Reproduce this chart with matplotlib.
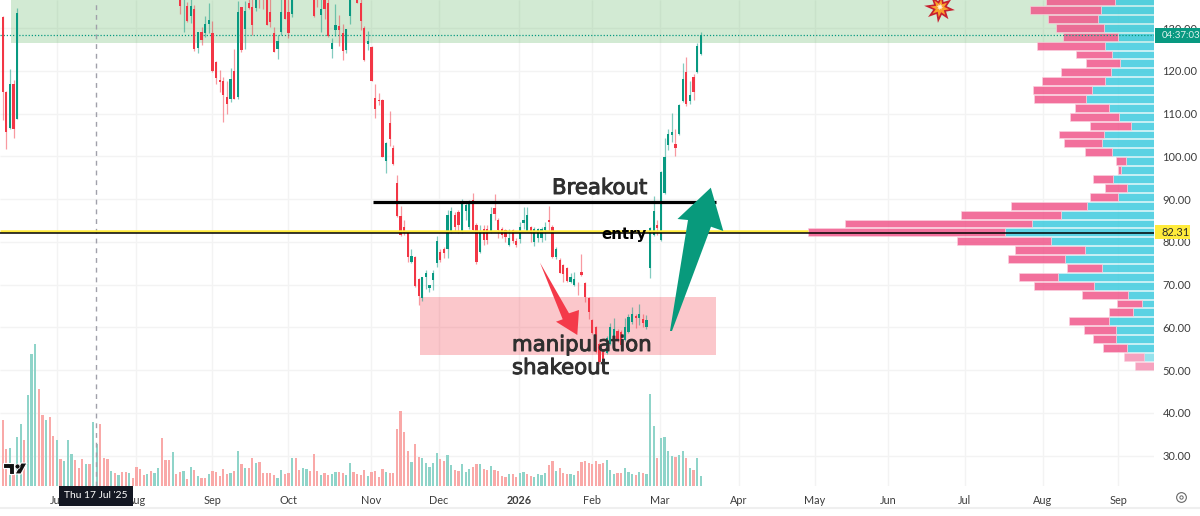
# -*- coding: utf-8 -*-
import numpy as np
import matplotlib
matplotlib.use('Agg')
import matplotlib.pyplot as plt
import matplotlib.patheffects as pe
from matplotlib.lines import Line2D
from matplotlib.patches import Polygon, Rectangle

plt.rcParams['font.family'] = ['Lato', 'DejaVu Sans']

# candles, only the bars that show inside the window
candle_bars = list(range(0, 5)) + list(range(49, 81)) + list(range(86, 194))
opens = [132.6, 115.0, 106.5, 116.9, 108.8,
         138, 137, 135.1, 132.9, 134.4, 125.4, 129.1, 128.75, 130.9, 128.75,
         122, 117.8, 117.7, 113.9, 113.4, 119.9, 113.9, 134.8, 129.8, 135.8,
         135, 134.6, 138, 138, 138, 133.7, 128.9, 125.1, 129.1, 137, 133.7, 133.3,
         # 86-115
         137.5, 138, 133, 137, 135.8, 125.1, 129.5, 130.5, 128.75, 124.85,
         132.9, 138, 138, 135.9, 129.9, 126.3, 125.6, 113.7, 113.15, 113.15,
         98.8, 107.8, 102, 93.8, 86, 83.5, 82, 75.3, 76.5, 71.4,
         # 116-145
         66.8, 71.8, 69.1, 71, 75.1, 77.7, 78.4, 78.3, 82.2, 86.2,
         87, 82.4, 87.3, 83.4, 89.8, 83.9, 77.7, 82.9, 83.1, 82.4,
         87.8, 85.1, 82.9, 82.7, 79.2, 82.7, 80.2, 80.6, 84.5, 82.6,
         # 146-178
         83.4, 80, 80.8, 80.8, 82.7, 85.1, 83.5, 76.5, 75.7, 74.5,
         73.8, 70.7, 69.9, 70.4, 73, 70.4, 66.8, 61.7, 60.1, 56.2,
         54.3, 53.9, 56.2, 57.8, 59.1, 59, 57, 59, 61.3, 62.7,
         62.1, 61.9, 60.1,
         # 179-193
         73.9, 81.6, 83.9, 80.4, 91.4, 102.6, 105, 102.9, 105.2, 112.9,
         119.7, 112.9, 118.5, 119.7, 123.9]
highs = [132.9, 115.2, 120.4, 117.8, 134.6,
         139, 139, 136, 137, 135.4, 129.1, 130.2, 132.9, 135.8, 131.6,
         122.2, 120.2, 118.6, 117.7, 120.7, 125, 136.4, 134.9, 136.2, 137,
         137, 139, 139, 139, 139, 137, 130.2, 128.4, 137, 138, 137, 138,
         138, 139, 137, 138, 137, 127.7, 135.6, 133, 131, 129.8,
         138, 139, 139, 137, 130.5, 129.4, 125.7, 117, 114.7, 113.3,
         103.4, 110.5, 102.6, 95.6, 88.4, 85, 82.1, 78.3, 76.6, 71.6,
         71.7, 73.4, 70, 73.4, 81.4, 78.4, 78.8, 87.4, 88.2, 87,
         87.5, 89.9, 89.6, 89.8, 91.3, 84.3, 83.9, 83.9, 84, 88.2,
         91.2, 85.5, 83.5, 83, 82.9, 83, 80.8, 84.7, 88.2, 88.2,
         83.8, 83.5, 83.3, 83.5, 84.7, 88.4, 83.9, 78.8, 76.2, 74.8,
         74.1, 72.8, 73, 70.6, 77.1, 70.6, 67, 62, 60.4, 56.6,
         55, 58, 60.9, 62.1, 59.5, 59.3, 62.1, 63.2, 64.8, 63,
         65.4, 63, 62.8,
         83.4, 90.7, 85.1, 96.5, 104.3, 106.4, 110.1, 106.4, 112.2, 121.8,
         123.2, 117.6, 119.2, 126.5, 129.1]
lows = [108.4, 101.6, 106.3, 104.2, 108.8,
        133.3, 129.1, 131.5, 131.1, 124.7, 124.2, 126, 127.8, 128.9, 119.7,
        116.8, 115.1, 108.1, 110, 112.6, 113.3, 113.3, 124.5, 125, 134.4,
        128.4, 134, 134.6, 134.4, 130.6, 130.2, 124.3, 122.7, 128.4, 132, 127.6, 132.6,
        132.6, 135, 129.1, 132.2, 128, 123.1, 128.1, 125.9, 122.5, 124.2,
        130.9, 137, 135.9, 129.5, 122.2, 124.85, 117.7, 108.9, 112, 99.8,
        96.1, 102.5, 98, 85.9, 81.4, 81.6, 75.2, 75, 69.4, 65.2,
        66.2, 68.9, 68.3, 68.7, 74.2, 75.3, 76.3, 76.1, 82, 82.4,
        82.1, 82, 85.1, 83.1, 82.5, 74.8, 77.3, 79.2, 79.5, 82,
        85.1, 80.8, 80.8, 80, 79, 79.6, 78.7, 79.8, 82.9, 82.4,
        80, 79, 80, 80, 80.4, 82.4, 76.3, 76, 72.6, 70.7,
        70.7, 70.3, 69.7, 67.5, 72, 66, 61.9, 58.4, 54, 51.5,
        50, 53.7, 55.8, 57, 56.5, 55.5, 56.8, 58.6, 60.8, 59.9,
        60.5, 60, 59.6,
        71.5, 81.3, 81.6, 80.2, 91.2, 101.5, 103.3, 100, 105, 112.7,
        111.8, 112.2, 113.2, 119.5, 123.8]
closes = [115.1, 105.7, 117.0, 106.4, 133.6,
          135.1, 138, 131.7, 135.1, 125, 129.1, 127.2, 130.9, 131.9, 119.9,
          118.2, 117.4, 114.4, 112.3, 118, 113.4, 133.7, 124.85, 134, 134.6,
          130.7, 137, 137, 137, 130.7, 131.5, 124.5, 127, 133.7, 132.2, 128.75, 137,
          132.9, 137, 134.4, 134.4, 128.1, 126.4, 130.7, 129.5, 124.7, 129.8,
          137, 138, 135.9, 131.7, 122.5, 127, 117.7, 111, 113, 99.9,
          103.2, 104, 98.1, 86, 81.6, 82.1, 76.5, 76.65, 69.6, 67.3,
          71.7, 72.8, 69.9, 72.6, 80.2, 75.7, 77.3, 86.2, 87.3, 83.5,
          83.9, 89, 88.6, 89, 82.7, 75.3, 82.4, 80.4, 80.4, 86.4,
          86.6, 82.7, 81.6, 81.2, 80.8, 80.2, 79.2, 83.5, 85, 86.2,
          82, 82.9, 82.9, 83.1, 83.5, 84.7, 76.5, 78.4, 72.8, 72.4,
          70.9, 71.7, 71.4, 70.3, 72.2, 67.1, 63.6, 58.6, 54.3, 51.9,
          50.1, 57.4, 60.1, 59.7, 57, 55.8, 60.1, 62.5, 63, 62.1,
          63, 61, 61.7,
          83.2, 87.2, 83.2, 96.3, 99.8, 105.2, 105.7, 101.9, 112, 118.1,
          112.2, 114.3, 115, 125.8, 128.4]

# volume pane, one value per bar from 0 to 193
volumes = [197, 110, 114, 52, 147, 187, 137, 272, 397, 425,
           292, 212, 197, 207, 149, 137, 80, 74, 137, 97,
           77, 54, 80, 67, 65, 191, 127, 187, 83, 81,
           45, 40, 32, 42, 42, 40, 25, 57, 50, 34,
           37, 44, 40, 54, 145, 77, 77, 101, 37, 42,
           44, 22, 57, 47, 31, 25, 25, 35, 44, 42,
           30, 50, 37, 40, 44, 104, 66, 55, 55, 83,
           68, 71, 40, 40, 40, 33, 25, 47, 37, 40,
           83, 83, 47, 53, 50, 44, 97, 44, 34, 40,
           34, 37, 43, 42, 38, 32, 68, 43, 36, 34,
           47, 30,
           41, 45, 28, 51, 43, 38, 38, 170, 226, 163,
           105, 71, 126, 88, 84, 69, 56, 69, 98, 82,
           74, 93, 63, 48, 46, 65, 41, 50, 56, 66,
           67, 50, 48, 60, 48, 44, 30, 28, 35, 35,
           26, 38, 41, 35, 30, 26, 35, 33, 39, 63,
           74, 46, 54, 39, 35, 35, 33, 46, 72, 76,
           69, 65, 74, 65, 69, 78, 48, 35, 39, 39,
           54, 43, 35, 33, 43, 39, 36, 276, 180, 85,
           143, 146, 106, 91, 87, 93, 106, 85, 54, 49,
           83, 30]
volume_dirs = ('dduduuduuu' 'ddudduduuu' 'ddduduuddd' 'ududdudddd' 'uduudddudd'
               'udududdudd' 'dddudududd' 'uddddduudd' 'udduudddud' 'duudduuddd' 'du'
               'dddduddddd' 'dudduuuuud' 'duudduuudd' 'udduddddud' 'duudduuuud'
               'duddduuddd' 'ddddduuudd' 'uuududuuud' 'uuuuduudud' 'uu')

# volume profile rows, bottom to top
row_prices = [51 + 2.08 * k for k in range(42)]
row_buy = [0, 30, 82, 114, 114, 134, 63, 36, 78, 181,
           287, 155, 266, 206, 309, 446, 366, 279, 200, 109,
           82, 123, 98, 85, 126, 155, 150, 69, 105, 134,
           204, 187, 146, 129, 102, 126, 147, 109, 150, 167,
           160, 117]
row_sell = [57, 61, 71, 68, 96, 120, 71, 74, 139, 178,
            117, 107, 173, 211, 283, 593, 560, 300, 230, 83,
            65, 61, 10, 29, 80, 114, 136, 122, 147, 103,
            156, 176, 191, 151, 102, 108, 203, 164, 143, 150,
            212, 207]

price_ticks = [30, 40, 50, 60, 70, 80, 90, 100, 110, 120, 130]
month_bars = [15, 36.9, 57.9, 78.9, 101.8, 120.6, 142.8, 163, 181.7, 203.6,
              224.6, 244.8, 266, 287.6, 308.4]
month_labels = ['Jul', 'Aug', 'Sep', 'Oct', 'Nov', 'Dec', '2026', 'Feb', 'Mar', 'Apr',
                'May', 'Jun', 'Jul', 'Aug', 'Sep']

last_price = 128.4
entry_price = 82.31
breakout_price = 89.4
zone_green = (126.4, 140)
zone_red = (53.5, 67.15)

RED = '#f23645'
GREEN = '#089981'
W, H = 1200, 516
PANE_R, PANE_B = 1154, 486
X0, BAR_PX = 2.67, 3.617
P0, P_PER_PX = 136.55, 0.2339


def px(x, y):
    # picture pixels to bar / price, for the hand drawn stuff
    return ((x - X0) / BAR_PX, P0 - P_PER_PX * y)


def draw_poly(points, **kw):
    ax.add_patch(Polygon([px(*p) for p in points], closed=True, **kw))


fig = plt.figure(figsize=(W / 100, H / 100), dpi=100)
ax = fig.add_axes([0, (H - PANE_B) / H, PANE_R / W, PANE_B / H])
ax.set_xlim(px(0, 0)[0], px(PANE_R, 0)[0])
ax.set_ylim(px(0, PANE_B)[1], P0)

ax_prof = ax.twiny()
ax_vol = ax.twinx()
ax_prof.set_xlim(PANE_R * 3, 0)
ax_vol.set_ylim(0, PANE_B * 3)
ax_prof.set_zorder(1)
ax_vol.set_zorder(2)
ax.set_zorder(3)
ax.patch.set_visible(False)
ax_vol.patch.set_visible(False)
for a in (ax, ax_prof, ax_vol):
    for s in a.spines.values():
        s.set_visible(False)
ax_prof.tick_params(top=False, labeltop=False)
ax_vol.tick_params(right=False, labelright=False)

# grid sits at the very back
ax_prof.hlines(price_ticks, 0, 1, transform=ax_prof.get_yaxis_transform(),
               color='#f3f3f3', lw=1, zorder=0)
ax_prof.vlines(month_bars, 0, 1, transform=ax.get_xaxis_transform(),
               color='#f3f3f3', lw=1, zorder=0)

# green zone goes behind the profile, which is a bit see through
ax_prof.axhspan(zone_green[0], zone_green[1], xmin=(11 / PANE_R), xmax=1, color='#4caf50',
                alpha=0.25, lw=0, zorder=1)

# volume profile
row_h = 1.85
for price, buy, sell in zip(row_prices, row_buy, row_sell):
    al = 0.55 if price < 54 else 0.85
    ax_prof.barh(price, buy, height=row_h, color='#3ecbde', alpha=al,
                 edgecolor='#d8f4f8', lw=0.5, zorder=2)
    ax_prof.barh(price, sell, left=buy, height=row_h, color='#f0578b', alpha=al,
                 edgecolor='#fbd3e0', lw=0.5, zorder=2)

# volume
vol_x = np.arange(len(volumes))
vol_cols = ['#8fd4c9' if d == 'u' else '#f9a9a8' for d in volume_dirs]
ax_vol.bar(vol_x, volumes, width=0.62, color=vol_cols, lw=0)

# red zone
ax.add_patch(Rectangle(px(419.5, 355), px(716, 0)[0] - px(419.5, 0)[0],
                       zone_red[1] - zone_red[0], color=RED, alpha=0.28, lw=0, zorder=1))

ax.axhline(last_price, color=GREEN, lw=0.9, ls=(0, (1, 1.5)), zorder=1.5)
ax.axvline(px(96.3, 0)[0], color='#a0a0aa', lw=1, ls=(0, (3.5, 3.5)), zorder=1.5)

# candles
for b, o, h, l, c in zip(candle_bars, opens, highs, lows, closes):
    col = GREEN if c >= o else RED
    ax.vlines(b, l, h, color=col, alpha=0.5, lw=0.9, zorder=2)
    ax.bar(b, abs(c - o), bottom=min(o, c), width=0.62, color=col, lw=0, zorder=2.1)

# levels
ax.hlines(entry_price + 0.1, ax.get_xlim()[0], px(808, 0)[0], color='#ffeb3b', lw=1.8, zorder=2.5)
ax.axhline(entry_price - 0.2, color='black', lw=1.1, zorder=2.6)
ax.hlines(breakout_price, px(373, 0)[0], px(716, 0)[0], color='black', lw=2.3, zorder=2.6)

# arrows
draw_poly([(540, 262.7), (569, 313.3), (579, 310), (577.3, 335), (556, 321.7), (562.7, 319.3)],
          fc='#f43a4a', ec='none', zorder=3)
draw_poly([(670, 331), (688, 220), (677.5, 219), (710.8, 187.7), (723.3, 231), (711, 226.7), (672, 331)],
          fc='#089a7c', ec='none', zorder=3)

# explosion sticker, cut by the top edge
angles = np.deg2rad(np.arange(0, 360, 22.5) + 8)
radii_out = np.array([15, 7, 14, 7, 15, 7, 15, 7, 16, 7, 15, 7, 15, 7, 14, 7])
star = np.c_[940 + radii_out * np.cos(angles), 8 + radii_out * np.sin(angles)]
draw_poly(star, fc='#c8202f', ec='none', zorder=3)
draw_poly(np.c_[940 + radii_out * 0.62 * np.cos(angles), 8 + radii_out * 0.62 * np.sin(angles)],
          fc='#f9a02c', ec='none', zorder=3.1)
draw_poly(np.c_[940 + radii_out * 0.22 * np.cos(angles), 7 + radii_out * 0.22 * np.sin(angles)],
          fc='#fff3e0', ec='none', zorder=3.2)

# text on chart
stroke = [pe.withStroke(linewidth=0.7, foreground='#2f2f2f')]
for txt, x, y in [('Breakout', 552, 188), ('manipulation', 512, 345), ('shakeout', 512, 368)]:
    ax.text(*px(x, y), txt, family='DejaVu Sans', fontsize=15.3, color='#2f2f2f', ha='left',
            va='center', path_effects=stroke, zorder=4)
ax.text(*px(601, 234), 'entry', family='DejaVu Sans', fontsize=10.8, weight='bold', color='black',
        ha='left', va='center', zorder=4)

# axes labels
ax.yaxis.tick_right()
ax.set_yticks(price_ticks)
ax.set_yticklabels(['%.2f' % p for p in price_ticks], fontsize=8, color='#3d3d3d')
ax.set_xticks(month_bars)
ax.set_xticklabels(month_labels, fontsize=7.8, color='#3d3d3d')
for t in ax.get_xticklabels():
    if t.get_text() == '2026':
        t.set_fontweight('bold')
ax.tick_params(axis='both', length=0)
ax.tick_params(axis='x', pad=6.5)
ax.tick_params(axis='y', pad=6)

# price tags and date tag
ytr = ax.get_yaxis_transform()
tag_w = (W - PANE_R - 1) / PANE_R
ax.add_patch(Rectangle((1.001, P0 - P_PER_PX * 42.7), tag_w, P_PER_PX * 14.7, transform=ytr,
                       fc=GREEN, ec='none', clip_on=False, zorder=5))
ax.text(1.0065, P0 - P_PER_PX * 35.4, '04:37:03', transform=ytr, fontsize=7, color='#dff3ee',
        va='center', ha='left', clip_on=False, zorder=6)
ax.add_patch(Rectangle((1.001, P0 - P_PER_PX * 239), 35 / PANE_R, P_PER_PX * 14, transform=ytr,
                       fc='#ffeb3b', ec='none', clip_on=False, zorder=5))
ax.text(1.0065, P0 - P_PER_PX * 232.3, '%.2f' % entry_price, transform=ytr, fontsize=8,
        color='#2a2a2a', va='center', ha='left', clip_on=False, zorder=6)

ax.add_patch(Rectangle(px(59, 505.5), 74 / BAR_PX, P_PER_PX * 19.5, fc='#131722', ec='none',
                       clip_on=False, zorder=5))
ax.text(*px(96, 496), "Thu 17 Jul '25", fontsize=7.4, color='white', ha='center', va='center',
        clip_on=False, zorder=6)

# tradingview mark
draw_poly([(3, 463), (14, 463), (14, 474), (9, 474), (9, 468), (3, 468)], fc='#111111',
          ec='white', lw=0.8, zorder=3)
draw_poly([(21, 463), (27, 463), (21, 474), (15, 474)], fc='#111111', ec='white', lw=0.8, zorder=3)
ax.plot(*px(17, 465.5), 'o', ms=3.6, color='#111111', mec='white', mew=0.5, zorder=3)

# settings icon and bottom line
ax.plot(*px(1181, 497), 'o', ms=7, mfc='none', mec='#666666', mew=0.8, clip_on=False, zorder=5)
ax.plot(*px(1181, 497), 'o', ms=2.4, mfc='none', mec='#666666', mew=0.7, clip_on=False, zorder=5)
fig.add_artist(Line2D([0, 1], [(H - 508) / H] * 2, color='#efefef', lw=1.5))

fig.savefig('out.png', dpi=100)
